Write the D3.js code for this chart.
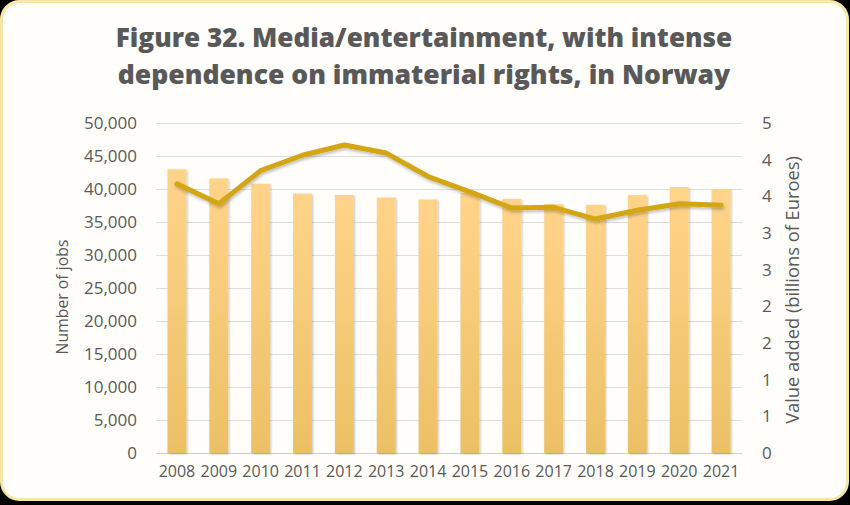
<!DOCTYPE html>
<html>
<head>
<meta charset="utf-8">
<script src="https://cdn.jsdelivr.net/npm/d3@7"></script>
<style>
  html, body { margin: 0; padding: 0; background: #000; }
  svg { display: block; }
</style>
</head>
<body>
<svg id="chart" width="850" height="505"></svg>
<script>
const years = ["2008","2009","2010","2011","2012","2013","2014","2015","2016","2017","2018","2019","2020","2021"];
const jobs = [43000, 41600, 40800, 39300, 39100, 38700, 38400, 39400, 38500, 37700, 37600, 39100, 40300, 40000];
const valueAdded = [3.67, 3.40, 3.85, 4.06, 4.20, 4.09, 3.77, 3.56, 3.34, 3.35, 3.19, 3.31, 3.40, 3.38];
const leftTicks = [0, 5000, 10000, 15000, 20000, 25000, 30000, 35000, 40000, 45000, 50000];
const rightTicks = [0, 0.5, 1, 1.5, 2, 2.5, 3, 3.5, 4, 4.5];
const rightTickLabels = ["0", "1", "1", "2", "2", "3", "3", "4", "4", "5"];
const titleLines = ["Figure 32. Media/entertainment, with intense", "dependence on immaterial rights, in Norway"];
const leftLabel = "Number of jobs";
const rightLabel = "Value added (billions of Euroes)";

const svg = d3.select("#chart");
const font = "'Open Sans', 'DejaVu Sans', sans-serif";
const textColor = "#595959";

const defs = svg.append("defs");
const grad = defs.append("linearGradient").attr("id", "barGrad")
  .attr("x1", 0).attr("y1", 0).attr("x2", 0).attr("y2", 1);
grad.append("stop").attr("offset", "0%").attr("stop-color", "#ffd48a");
grad.append("stop").attr("offset", "100%").attr("stop-color", "#ebc065");
const shadow = defs.append("filter").attr("id", "shadow")
  .attr("x", "-30%").attr("y", "-10%").attr("width", "160%").attr("height", "120%");
shadow.append("feDropShadow").attr("dx", 1).attr("dy", 1).attr("stdDeviation", 1.2)
  .attr("flood-color", "#000").attr("flood-opacity", 0.25);
const lshadow = defs.append("filter").attr("id", "lshadow")
  .attr("x", "-10%").attr("y", "-30%").attr("width", "120%").attr("height", "160%");
lshadow.append("feDropShadow").attr("dx", 1).attr("dy", 2).attr("stdDeviation", 1.5)
  .attr("flood-color", "#000").attr("flood-opacity", 0.25);

// card
svg.append("rect").attr("x", 1.5).attr("y", 1.5).attr("width", 846).attr("height", 498)
  .attr("rx", 18).attr("ry", 18)
  .attr("fill", "#fffefb").attr("stroke", "#f6e7a4").attr("stroke-width", 3);

function fit(el, base, target) {
  const w = el.node().getComputedTextLength();
  el.attr("font-size", base * target / w);
}

// title
titleLines.forEach((t, i) => {
  const el = svg.append("text")
    .attr("x", 424).attr("y", 47 + i * 37)
    .attr("text-anchor", "middle")
    .attr("font-family", font).attr("font-weight", 800)
    .attr("font-size", 28).attr("fill", textColor)
    .text(t);
  fit(el, 28, i === 0 ? 617 : 613);
});

const x = d3.scaleBand().domain(years).range([156, 742]).paddingInner(0.55).paddingOuter(0.275);
const yL = d3.scaleLinear().domain([0, 50000]).range([453, 123]);
const yR = d3.scaleLinear().domain([0, 4.5]).range([453, 123]);

// grid
svg.append("g").selectAll("line").data(leftTicks).join("line")
  .attr("x1", 156).attr("x2", 742)
  .attr("y1", d => yL(d) + 0.5).attr("y2", d => yL(d) + 0.5)
  .attr("stroke", d => d === 0 ? "#cfcfcf" : "#dedede").attr("stroke-width", 1);

// left axis
const axL = svg.append("g").attr("transform", "translate(156,0)")
  .call(d3.axisLeft(yL).tickValues(leftTicks).tickFormat(d3.format(",")).tickSize(0).tickPadding(19));
axL.select(".domain").remove();
axL.selectAll("text").attr("font-family", font).attr("font-size", 17).attr("fill", textColor);

// right axis
const axR = svg.append("g").attr("transform", "translate(742,0)")
  .call(d3.axisRight(yR).tickValues(rightTicks).tickFormat((d, i) => rightTickLabels[i]).tickSize(0).tickPadding(20));
axR.select(".domain").remove();
axR.selectAll("text").attr("font-family", font).attr("font-size", 17).attr("fill", textColor);

// x axis
const axX = svg.append("g").attr("transform", "translate(0,453)")
  .call(d3.axisBottom(x).tickSize(0).tickPadding(13));
axX.select(".domain").remove();
axX.selectAll("text").attr("font-family", font).attr("font-size", 16).attr("fill", textColor);

// bars
svg.append("g").attr("filter", "url(#shadow)").selectAll("rect").data(years).join("rect")
  .attr("x", d => x(d)).attr("width", x.bandwidth())
  .attr("y", (d, i) => yL(jobs[i])).attr("height", (d, i) => yL(0) - yL(jobs[i]))
  .attr("fill", "url(#barGrad)");

// line
const line = d3.line().x((d, i) => x(years[i]) + x.bandwidth() / 2).y(d => yR(d));
svg.append("path").datum(valueAdded)
  .attr("d", line).attr("fill", "none")
  .attr("stroke", "#d3a614").attr("stroke-width", 5)
  .attr("stroke-linejoin", "round").attr("stroke-linecap", "round")
  .attr("filter", "url(#lshadow)");

// axis labels
const ll = svg.append("text").attr("transform", "translate(68,297) rotate(-90)")
  .attr("text-anchor", "middle").attr("font-family", font).attr("font-size", 16)
  .attr("fill", textColor).text(leftLabel);
fit(ll, 16, 115);
const rl = svg.append("text").attr("transform", "translate(799,290) rotate(-90)")
  .attr("text-anchor", "middle").attr("font-family", font).attr("font-size", 16)
  .attr("fill", textColor).text(rightLabel);
fit(rl, 16, 268);
</script>
</body>
</html>
